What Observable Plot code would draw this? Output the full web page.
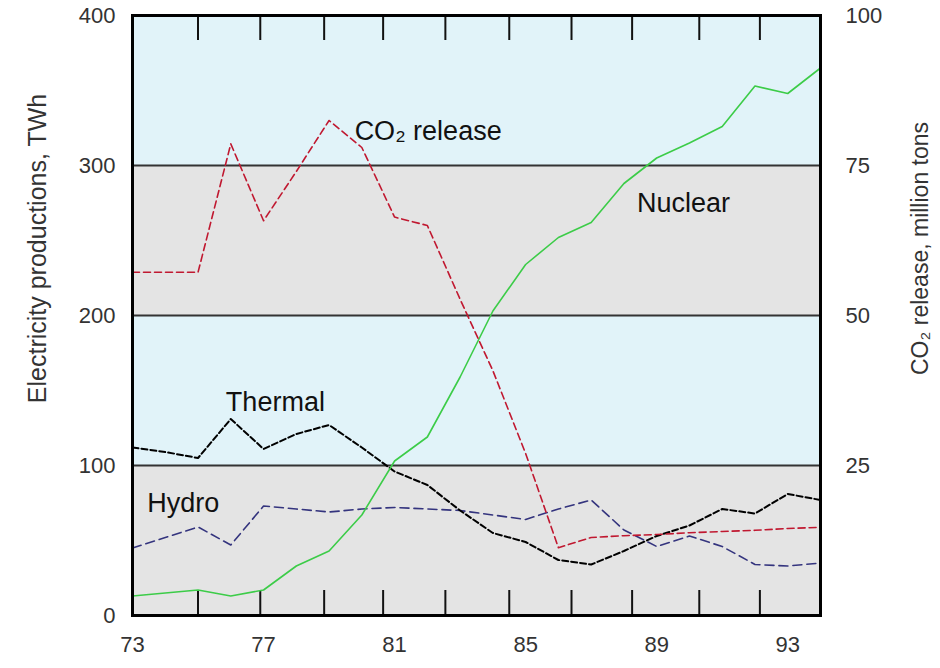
<!DOCTYPE html>
<html>
<head>
<meta charset="utf-8">
<script src="https://cdn.jsdelivr.net/npm/d3@7"></script>
<script src="https://cdn.jsdelivr.net/npm/@observablehq/plot@0.6"></script>
<style>
  html, body { margin: 0; padding: 0; background: #fff; }
  #chart svg { display: block; }
</style>
</head>
<body>
<div id="chart"></div>
<script>
// ---- data ----
const years   = [73,74,75,76,77,78,79,80,81,82,83,84,85,86,87,88,89,90,91,92,93,94];
// TWh
const nuclear = [13,15,17,13,17,33,43,67,103,119,159,203,234,252,262,288,305,315,326,353,348,365];
const thermal = [112,109,105,131,111,121,127,112,96,87,70,55,49,37,34,43,53,60,71,68,81,77];
const hydro   = [45,52,59,47,73,71,69,71,72,71,70,67,64,71,77,57,46,53,46,34,33,35];
// million tons
const co2     = [57.2,57.2,57.2,78.6,65.8,74,82.5,78,66.4,65,52.7,40.8,27,11.3,13,13.3,13.5,13.8,14,14.2,14.5,14.7];

const xTickLabels = [73,77,81,85,89,93];
const minorTicks  = [75,76.9,78.85,80.65,82.55,84.5,86.4,88.25,90.3,92.15];
const yTicksLeft  = [0,100,200,300,400];
const yTicksRight = [25,50,75,100];           // million tons
const gridLines   = [100,200,300];
const bands = [
  {y1: 0,   y2: 100, kind: "gray"},
  {y1: 100, y2: 200, kind: "blue"},
  {y1: 200, y2: 300, kind: "gray"},
  {y1: 300, y2: 400, kind: "blue"}
];
const seriesLabels = [
  {x: 79.78, y: 323, text: "CO₂ release"},
  {x: 88.4,  y: 275, text: "Nuclear"},
  {x: 75.85, y: 142, text: "Thermal"},
  {x: 73.45, y: 75,  text: "Hydro"}
];
const leftTitle  = "Electricity productions, TWh";
const rightTitle = "CO₂ release, million tons";
const co2Factor = 4; // 100 TWh on the left axis = 25 million tons on the right

const rows = years.map((yr, i) => ({year: yr, nuclear: nuclear[i], thermal: thermal[i], hydro: hydro[i], co2: co2[i]}));

const FONT = "'Liberation Sans', Arial, Helvetica, sans-serif";

const chart = Plot.plot({
  width: 940,
  height: 668,
  marginLeft: 132,
  marginRight: 120,
  marginTop: 15,
  marginBottom: 53,
  style: {fontFamily: FONT, background: "#fff", overflow: "visible"},
  x: {domain: [73, 94]},
  y: {domain: [0, 400]},
  marks: [
    Plot.rectY(bands, {x1: 73, x2: 94, y1: "y1", y2: "y2", fill: d => d.kind === "gray" ? "#e4e4e4" : "#e1f3f9"}),
    Plot.ruleY(gridLines, {stroke: "#333", strokeWidth: 2}),
    Plot.tickX(minorTicks, {x: d => d, insetTop: 575, stroke: "#111", strokeWidth: 2}),
    Plot.tickX(minorTicks, {x: d => d, insetBottom: 575, stroke: "#111", strokeWidth: 2}),
    // series
    Plot.line(rows, {x: "year", y: "hydro", stroke: "#34347e", strokeWidth: 1.6, strokeDasharray: "9,5"}),
    Plot.line(rows, {x: "year", y: "thermal", stroke: "#000", strokeWidth: 2, strokeDasharray: "6,3"}),
    Plot.line(rows, {x: "year", y: "nuclear", stroke: "#3ccc48", strokeWidth: 1.6}),
    Plot.line(rows, {x: "year", y: d => d.co2 * co2Factor, stroke: "#c01830", strokeWidth: 1.6, strokeDasharray: "7,4"}),
    // labels on series
    Plot.text(seriesLabels, {x: "x", y: "y", text: "text", textAnchor: "start", fontSize: 27, fill: "#111", fontFamily: FONT}),
    // axes
    Plot.axisX({ticks: xTickLabels, tickSize: 0, tickPadding: 21, fontSize: 22, fill: "#333", tickFormat: d => String(d)}),
    Plot.axisY({anchor: "left", ticks: yTicksLeft, tickSize: 0, tickPadding: 17, fontSize: 22, fill: "#333", label: null}),
    Plot.axisY({anchor: "right", ticks: yTicksRight.map(v => v * co2Factor), tickFormat: d => String(d / co2Factor), tickSize: 0, tickPadding: 25, fontSize: 22, fill: "#333", label: null}),
    Plot.text([leftTitle], {frameAnchor: "left", textAnchor: "middle", dx: -95, dy: -67, rotate: -90, fontSize: 25, fill: "#333", fontFamily: FONT}),
    Plot.text([rightTitle], {frameAnchor: "right", textAnchor: "middle", dx: 100, dy: -67, rotate: -90, fontSize: 23, fill: "#333", fontFamily: FONT}),
    Plot.frame({stroke: "#000", strokeWidth: 3})
  ]
});
document.getElementById("chart").appendChild(chart);
</script>
</body>
</html>
